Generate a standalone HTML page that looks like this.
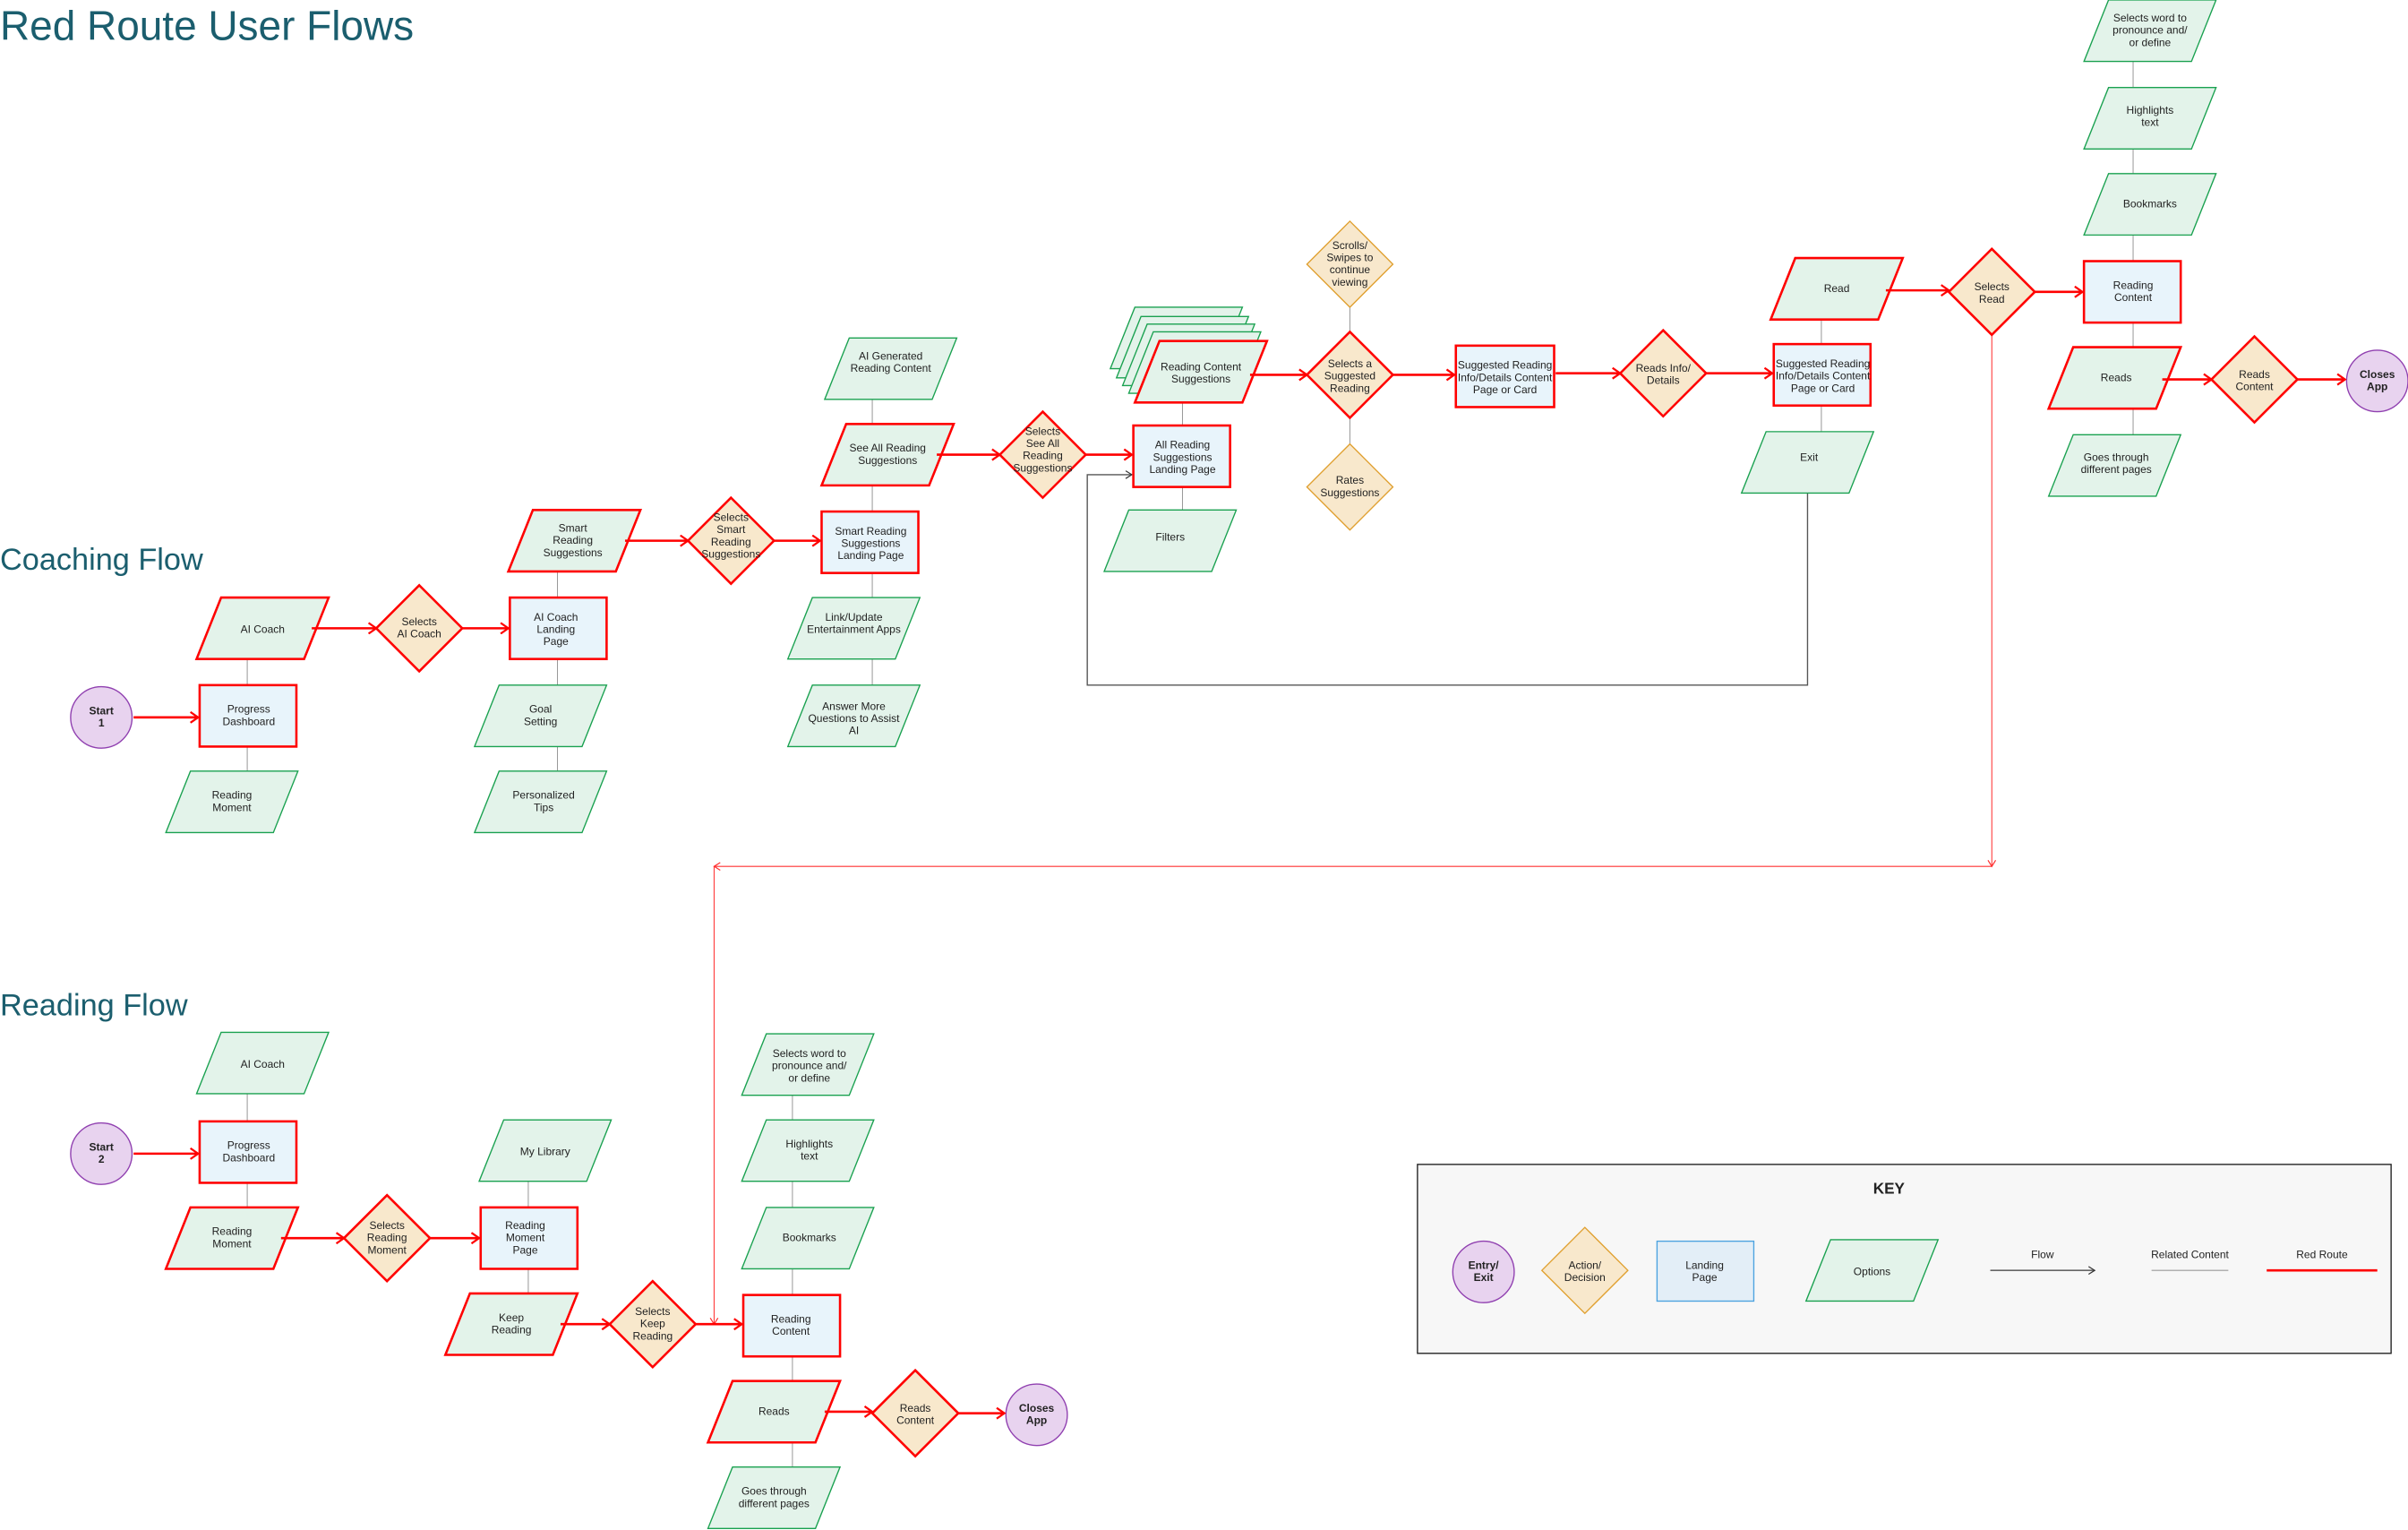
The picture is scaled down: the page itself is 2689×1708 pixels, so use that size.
<!DOCTYPE html>
<html><head><meta charset="utf-8"><style>
html,body{margin:0;padding:0;background:#fff;}
svg{display:block;}
text{font-family:"Liberation Sans Narrow","Liberation Sans",sans-serif;font-size:7px;fill:#222;text-anchor:middle;}
.r{fill:#e8f4fb;stroke:#ff0000;stroke-width:1.5;}
.pg{fill:#e3f3ea;stroke:#1aa150;stroke-width:0.8;}
.pr{fill:#e3f3ea;stroke:#ff0000;stroke-width:1.5;}
.dr{fill:#f8e8cc;stroke:#ff0000;stroke-width:1.5;}
.do{fill:#f8e8cc;stroke:#e0a030;stroke-width:0.8;}
.c{fill:#e8d3ef;stroke:#9040b0;stroke-width:0.8;}
.g{stroke:#9a9a9a;stroke-width:0.6;fill:none;}
.a path{stroke:#ff0000;stroke-width:1.5;fill:none;marker-end:url(#ar);}
.t{stroke:#ff3030;stroke-width:0.6;fill:none;}
.b{font-weight:bold;}
</style></head><body>
<svg width="2689" height="1708" viewBox="0 0 1568 996" preserveAspectRatio="none" xmlns="http://www.w3.org/2000/svg">
<defs>
<marker id="ar" markerWidth="8" markerHeight="8" refX="6" refY="4" orient="auto" markerUnits="userSpaceOnUse"><path d="M1,0.5 L6,4 L1,7.5" fill="none" stroke="#ff0000" stroke-width="1.3"/></marker>
<marker id="at" markerWidth="8" markerHeight="8" refX="6" refY="4" orient="auto" markerUnits="userSpaceOnUse"><path d="M2,1.5 L6,4 L2,6.5" fill="none" stroke="#ff3030" stroke-width="0.7"/></marker>
<marker id="ak" markerWidth="8" markerHeight="8" refX="6" refY="4" orient="auto" markerUnits="userSpaceOnUse"><path d="M2,1.5 L6,4 L2,6.5" fill="none" stroke="#333" stroke-width="0.7"/></marker>
</defs>

<text x="0" y="26" style="font-family:'Liberation Sans',sans-serif;font-size:26.8px;fill:#1b5e6e;text-anchor:start">Red Route User Flows</text>
<text x="0" y="371" style="font-family:'Liberation Sans',sans-serif;font-size:20px;fill:#1b5e6e;text-anchor:start">Coaching Flow</text>
<text x="0" y="661" style="font-family:'Liberation Sans',sans-serif;font-size:20px;fill:#1b5e6e;text-anchor:start">Reading Flow</text>

<path class="g" d="M161,429V446M161,486V502M363,372V389M363,429V446M363,486V502M568,260V276M568,316V333M568,372V389M568,429V446M770,262V277M770,316V332M879,200V216M879,272V289M1186,208V224M1186,264V281M1389,40V57M1389,97V113M1389,153V170M1389,209V226M1389,266V283M161,712V730M161,769V786M344,769V786M344,826V842M516,713V729M516,769V786M516,826V843M516,882V899M516,939V955"/>

<path d="M1177,321V446H708V309H737" fill="none" stroke="#555" stroke-width="0.8" marker-end="url(#ak)"/>

<path class="t" d="M1297,218V564" marker-end="url(#at)"/>
<path class="t" d="M1297,564H465" marker-end="url(#at)"/>
<path class="t" d="M465,564V862" marker-end="url(#at)"/>

<ellipse class="c" cx="66" cy="467" rx="20" ry="20"/><text class="b" x="66" y="465">Start</text><text class="b" x="66" y="473">1</text>
<ellipse class="c" cx="66" cy="751" rx="20" ry="20"/><text class="b" x="66" y="749">Start</text><text class="b" x="66" y="757">2</text>
<ellipse class="c" cx="1548" cy="248" rx="20" ry="20"/><text class="b" x="1548" y="246">Closes</text><text class="b" x="1548" y="254">App</text>
<ellipse class="c" cx="675" cy="921" rx="20" ry="20"/><text class="b" x="675" y="919">Closes</text><text class="b" x="675" y="927">App</text>

<rect class="r" x="130" y="446" width="63" height="40"/><text x="162" y="464">Progress</text><text x="162" y="472">Dashboard</text>
<rect class="r" x="332" y="389" width="63" height="40"/><text x="362" y="404">AI Coach</text><text x="362" y="412">Landing</text><text x="362" y="420">Page</text>
<rect class="r" x="535" y="333" width="63" height="40"/><text x="567" y="348">Smart Reading</text><text x="567" y="356">Suggestions</text><text x="567" y="364">Landing Page</text>
<rect class="r" x="738" y="277" width="63" height="40"/><text x="770" y="292">All Reading</text><text x="770" y="300">Suggestions</text><text x="770" y="308">Landing Page</text>
<rect class="r" x="948" y="225" width="64" height="40"/><text x="980" y="240">Suggested Reading</text><text x="980" y="248">Info/Details Content</text><text x="980" y="256">Page or Card</text>
<rect class="r" x="1155" y="224" width="63" height="40"/><text x="1187" y="239">Suggested Reading</text><text x="1187" y="247">Info/Details Content</text><text x="1187" y="255">Page or Card</text>
<rect class="r" x="1357" y="170" width="63" height="40"/><text x="1389" y="188">Reading</text><text x="1389" y="196">Content</text>
<rect class="r" x="130" y="730" width="63" height="40"/><text x="162" y="748">Progress</text><text x="162" y="756">Dashboard</text>
<rect class="r" x="313" y="786" width="63" height="40"/><text x="342" y="800">Reading</text><text x="342" y="808">Moment</text><text x="342" y="816">Page</text>
<rect class="r" x="484" y="843" width="63" height="40"/><text x="515" y="861">Reading</text><text x="515" y="869">Content</text>

<polygon class="pg" points="739,200 809,200 793,240 723,240"/>
<polygon class="pg" points="743,206 813,206 797,246 727,246"/>
<polygon class="pg" points="747,211 817,211 801,251 731,251"/>
<polygon class="pg" points="751,216 821,216 805,256 735,256"/>

<polygon class="pr" points="144,389 214,389 198,429 128,429"/><text x="171" y="412">AI Coach</text>
<polygon class="pg" points="124,502 194,502 178,542 108,542"/><text x="151" y="520">Reading</text><text x="151" y="528">Moment</text>
<polygon class="pr" points="347,332 417,332 401,372 331,372"/><text x="373" y="346">Smart</text><text x="373" y="354">Reading</text><text x="373" y="362">Suggestions</text>
<polygon class="pg" points="325,446 395,446 379,486 309,486"/><text x="352" y="464">Goal</text><text x="352" y="472">Setting</text>
<polygon class="pg" points="325,502 395,502 379,542 309,542"/><text x="354" y="520">Personalized</text><text x="354" y="528">Tips</text>
<polygon class="pr" points="551,276 621,276 605,316 535,316"/><text x="578" y="294">See All Reading</text><text x="578" y="302">Suggestions</text>
<polygon class="pg" points="553,220 623,220 607,260 537,260"/><text x="580" y="234">AI Generated</text><text x="580" y="242">Reading Content</text>
<polygon class="pg" points="529,389 599,389 583,429 513,429"/><text x="556" y="404">Link/Update</text><text x="556" y="412">Entertainment Apps</text>
<polygon class="pg" points="529,446 599,446 583,486 513,486"/><text x="556" y="462">Answer More</text><text x="556" y="470">Questions to Assist</text><text x="556" y="478">AI</text>
<polygon class="pr" points="755,222 825,222 809,262 739,262"/><text x="782" y="241">Reading Content</text><text x="782" y="249">Suggestions</text>
<polygon class="pg" points="735,332 805,332 789,372 719,372"/><text x="762" y="352">Filters</text>
<polygon class="pr" points="1169,168 1239,168 1223,208 1153,208"/><text x="1196" y="190">Read</text>
<polygon class="pg" points="1150,281 1220,281 1204,321 1134,321"/><text x="1178" y="300">Exit</text>
<polygon class="pg" points="1373,0 1443,0 1427,40 1357,40"/><text x="1400" y="14">Selects word to</text><text x="1400" y="22">pronounce and/</text><text x="1400" y="30">or define</text>
<polygon class="pg" points="1373,57 1443,57 1427,97 1357,97"/><text x="1400" y="74">Highlights</text><text x="1400" y="82">text</text>
<polygon class="pg" points="1373,113 1443,113 1427,153 1357,153"/><text x="1400" y="135">Bookmarks</text>
<polygon class="pr" points="1350,226 1420,226 1404,266 1334,266"/><text x="1378" y="248">Reads</text>
<polygon class="pg" points="1350,283 1420,283 1404,323 1334,323"/><text x="1378" y="300">Goes through</text><text x="1378" y="308">different pages</text>

<polygon class="pg" points="144,672 214,672 198,712 128,712"/><text x="171" y="695">AI Coach</text>
<polygon class="pr" points="124,786 194,786 178,826 108,826"/><text x="151" y="804">Reading</text><text x="151" y="812">Moment</text>
<polygon class="pg" points="328,729 398,729 382,769 312,769"/><text x="355" y="752">My Library</text>
<polygon class="pr" points="306,842 376,842 360,882 290,882"/><text x="333" y="860">Keep</text><text x="333" y="868">Reading</text>
<polygon class="pg" points="499,673 569,673 553,713 483,713"/><text x="527" y="688">Selects word to</text><text x="527" y="696">pronounce and/</text><text x="527" y="704">or define</text>
<polygon class="pg" points="499,729 569,729 553,769 483,769"/><text x="527" y="747">Highlights</text><text x="527" y="755">text</text>
<polygon class="pg" points="499,786 569,786 553,826 483,826"/><text x="527" y="808">Bookmarks</text>
<polygon class="pr" points="477,899 547,899 531,939 461,939"/><text x="504" y="921">Reads</text>
<polygon class="pg" points="477,955 547,955 531,995 461,995"/><text x="504" y="973">Goes through</text><text x="504" y="981">different pages</text>

<polygon class="dr" points="273,381 301,409 273,437 245,409"/><text x="273" y="407">Selects</text><text x="273" y="415">AI Coach</text>
<polygon class="dr" points="476,324 504,352 476,380 448,352"/><text x="476" y="339">Selects</text><text x="476" y="347">Smart</text><text x="476" y="355">Reading</text><text x="476" y="363">Suggestions</text>
<polygon class="dr" points="679,268 707,296 679,324 651,296"/><text x="679" y="283">Selects</text><text x="679" y="291">See All</text><text x="679" y="299">Reading</text><text x="679" y="307">Suggestions</text>
<polygon class="dr" points="879,216 907,244 879,272 851,244"/><text x="879" y="239">Selects a</text><text x="879" y="247">Suggested</text><text x="879" y="255">Reading</text>
<polygon class="do" points="879,144 907,172 879,200 851,172"/><text x="879" y="162">Scrolls/</text><text x="879" y="170">Swipes to</text><text x="879" y="178">continue</text><text x="879" y="186">viewing</text>
<polygon class="do" points="879,289 907,317 879,345 851,317"/><text x="879" y="315">Rates</text><text x="879" y="323">Suggestions</text>
<polygon class="dr" points="1083,215 1111,243 1083,271 1055,243"/><text x="1083" y="242">Reads Info/</text><text x="1083" y="250">Details</text>
<polygon class="dr" points="1297,162 1325,190 1297,218 1269,190"/><text x="1297" y="189">Selects</text><text x="1297" y="197">Read</text>
<polygon class="dr" points="1468,219 1496,247 1468,275 1440,247"/><text x="1468" y="246">Reads</text><text x="1468" y="254">Content</text>
<polygon class="dr" points="252,778 280,806 252,834 224,806"/><text x="252" y="800">Selects</text><text x="252" y="808">Reading</text><text x="252" y="816">Moment</text>
<polygon class="dr" points="425,834 453,862 425,890 397,862"/><text x="425" y="856">Selects</text><text x="425" y="864">Keep</text><text x="425" y="872">Reading</text>
<polygon class="dr" points="596,892 624,920 596,948 568,920"/><text x="596" y="919">Reads</text><text x="596" y="927">Content</text>

<rect x="923" y="758" width="634" height="123" fill="#f7f7f7" stroke="#222" stroke-width="0.8"/>
<text class="b" x="1230" y="777" style="font-size:10px;font-family:'Liberation Sans',sans-serif">KEY</text>
<ellipse class="c" cx="966" cy="828" rx="20" ry="20"/><text class="b" x="966" y="826">Entry/</text><text class="b" x="966" y="834">Exit</text>
<polygon class="do" points="1032,799 1060,827 1032,855 1004,827"/><text x="1032" y="826">Action/</text><text x="1032" y="834">Decision</text>
<rect x="1079" y="808" width="63" height="39" fill="#e3eef7" stroke="#4da3e0" stroke-width="0.8"/><text x="1110" y="826">Landing</text><text x="1110" y="834">Page</text>
<polygon class="pg" points="1192,807 1262,807 1246,847 1176,847"/><text x="1219" y="830">Options</text>
<path d="M1296,827H1364" stroke="#666" stroke-width="0.9" marker-end="url(#ak)"/><text x="1330" y="819">Flow</text>
<path d="M1401,827H1451" stroke="#9a9a9a" stroke-width="0.6"/><text x="1426" y="819">Related Content</text>
<text x="1512" y="819">Red Route</text>
<path d="M1476,827H1548" stroke="#ff0000" stroke-width="1.5"/>

<g class="a">
<path d="M87,467H129"/><path d="M203,409H245"/><path d="M301,409H331"/><path d="M407,352H448"/><path d="M504,352H534"/><path d="M610,296H651"/><path d="M707,296H737"/><path d="M814,244H851"/><path d="M907,244H947"/><path d="M1013,243H1055"/><path d="M1111,243H1154"/><path d="M1228,189H1269"/><path d="M1325,190H1356"/><path d="M1408,247H1440"/><path d="M1496,247H1527"/><path d="M87,751H129"/><path d="M183,806H224"/><path d="M280,806H312"/><path d="M365,862H397"/><path d="M453,862H483"/><path d="M537,919H568"/><path d="M624,920H654"/>
</g>
</svg>
</body></html>
